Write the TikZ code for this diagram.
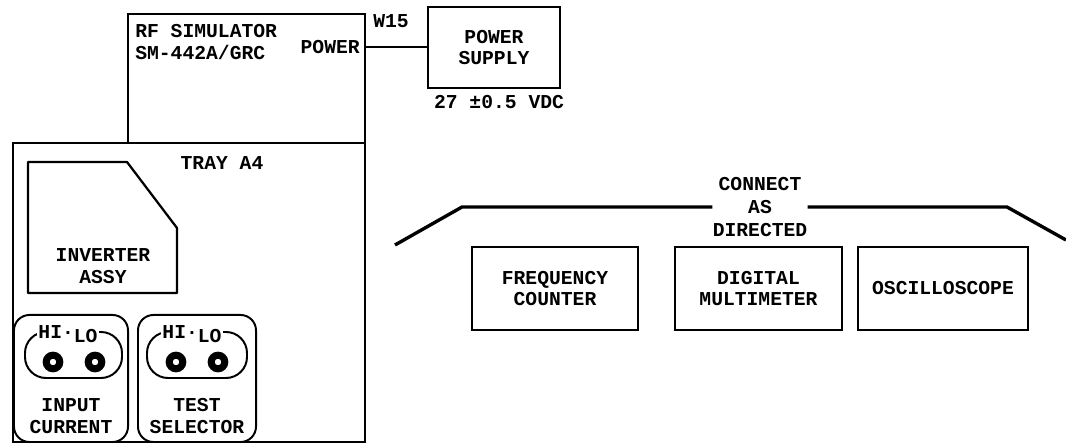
\documentclass[tikz,border=0pt]{standalone}
\usepackage{fontspec}
\setmonofont{Liberation Mono}
\usetikzlibrary{positioning, calc}

\begin{document}
\begin{tikzpicture}[
  x=0.025cm, y=-0.025cm,
  every node/.style={font=\ttfamily\bfseries\fontsize{14}{15.5}\selectfont},
  box/.style={draw, line width=1.6pt, inner sep=0pt, align=center},
  panel/.style={draw, line width=1.4pt, rounded corners=11pt, inner sep=0pt},
  socket/.style={draw, line width=1.4pt, rounded corners=15pt, inner sep=0pt},
  jack/.style={circle, draw, line width=5pt, minimum size=0.34cm, inner sep=0pt},
  lbl/.style={align=center, inner sep=0pt},
  hilo/.style={fill=white, inner sep=1pt},
  bracket/.style={line width=2.4pt},
  wire/.style={line width=1.4pt}
]
\useasboundingbox (0,0) rectangle (1066,444);

% simulator and power
\node[box, minimum width=5.925cm, minimum height=3.225cm] (rf) at (246.5,78.5) {};
\node[lbl, anchor=north west, align=left] (rflbl) at (135,24) {RF SIMULATOR\\SM-442A/GRC};
\node[lbl, anchor=east] (pwr) at (360,47) {POWER};
\node[box, minimum width=3.3cm, minimum height=2.025cm] (psu) at (494,47.5) {POWER\\SUPPLY};
\node[lbl] (w15) at (391,21) {W15};
\node[lbl] (vdc) at (499,102) {27 ±0.5 VDC};
\draw[wire] (pwr.east -| rf.east) -- (pwr.east -| psu.west);

% tray
\node[box, minimum width=8.8cm, minimum height=7.475cm] (tray) at (189,292.5) {};
\node[lbl] (traylbl) at (222,163) {TRAY A4};
\coordinate (invA) at (28,162);
\coordinate (invB) at (127,162);
\coordinate (invC) at (177,228);
\coordinate (invD) at (177,293);
\coordinate (invE) at (28,293);
\draw[line width=1.6pt, line join=round] (invA) -- (invB) -- (invC) -- (invD) -- (invE) -- cycle;
\node[lbl] (invlbl) at (103,266) {INVERTER\\ASSY};

\node[panel, minimum width=2.85cm, minimum height=3.175cm] (inpanel) at (71,378.5) {};
\node[socket, minimum width=2.425cm, minimum height=1.15cm] (insock) at (73.5,355) {};
\node[hilo] (inhilo) at (68,334) {HI·\raisebox{-3pt}{LO}};
\node[jack] (inhi) at (53,362) {};
\node[jack] (inlo) at (95,362) {};
\node[lbl] (inlbl) at (71,416) {INPUT\\CURRENT};

\node[panel, minimum width=2.95cm, minimum height=3.175cm] (tspanel) at (197,378.5) {};
\node[socket, minimum width=2.5cm, minimum height=1.15cm] (tssock) at (197,355) {};
\node[hilo] (tshilo) at (192,334) {HI·\raisebox{-3pt}{LO}};
\node[jack] (tshi) at (176,362) {};
\node[jack] (tslo) at (218,362) {};
\node[lbl] (tslbl) at (197,416) {TEST\\SELECTOR};

% test equipment
\node[lbl, font=\ttfamily\bfseries\fontsize{14}{16.3}\selectfont] (cad) at (760,207) {CONNECT\\AS\\DIRECTED};
\coordinate (brL) at (395,245);
\coordinate (brLc) at (462,207);
\coordinate (brRc) at (1007,207);
\coordinate (brR) at (1066,240);
\draw[bracket] (brL) -- (brLc) -- (cad.west);
\draw[bracket] (cad.east) -- (brRc) -- (brR);

\node[box, minimum width=4.15cm, minimum height=2.075cm] (fc) at (555,288.5) {FREQUENCY\\COUNTER};
\node[box, minimum width=4.175cm, minimum height=2.075cm] (dmm) at (758.5,288.5) {DIGITAL\\MULTIMETER};
\node[box, minimum width=4.25cm, minimum height=2.075cm] (osc) at (943,288.5) {OSCILLOSCOPE};
\end{tikzpicture}
\end{document}
